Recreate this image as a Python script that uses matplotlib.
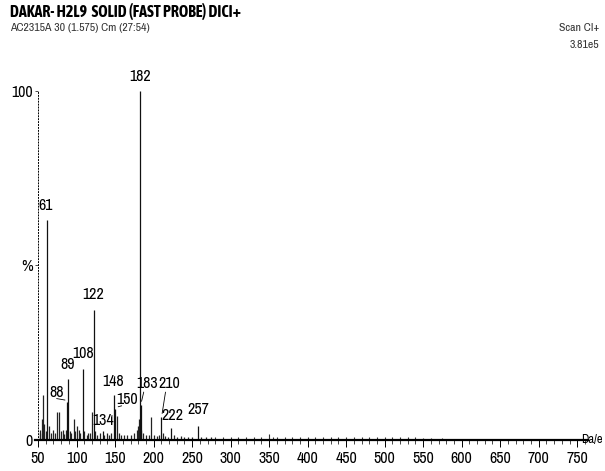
import matplotlib
matplotlib.use("Agg")
import matplotlib.pyplot as plt
from matplotlib import font_manager
from matplotlib.ticker import MultipleLocator, FixedLocator

# narrow faces: one for plain text, one with a bold weight for the title
faces = font_manager.fontManager.ttflist
narrow = [f.name for f in faces
          if 'Narrow' in f.name or 'Condensed' in f.name]
bold_narrow = sorted({f.name for f in faces
                      if f.name in narrow and f.weight in (700, 'bold')})
plt.rcParams['font.family'] = narrow[:1] + ['DejaVu Sans']
plt.rcParams['font.stretch'] = 'condensed'
title_family = (bold_narrow or narrow)[:1] + ['DejaVu Sans']

# labelled peaks (m/z, relative intensity %)
peak_mz = [61, 88, 89, 108, 122, 134, 148, 150, 182, 183, 210, 222, 257]
peak_int = [63, 11, 17.5, 20.3, 37.2, 2.5, 13, 9, 100, 10, 6.5, 3.4, 4]

# unlabelled stems
minor_mz = [52, 53, 55, 57, 58, 60, 64, 67, 70, 72, 75, 77, 80, 82, 84, 86, 91,
            93, 96, 98, 100, 103, 105, 110, 113, 115, 118, 120, 124, 127, 130,
            136, 139, 142, 145, 152, 155, 158, 162, 166, 170, 174, 178, 180,
            181, 184, 186, 190, 194, 197, 200, 204, 207, 212, 215, 219, 226,
            230, 235, 240, 245, 250, 262, 268, 275]
minor_int = [2, 3, 6, 13, 4.5, 2.5, 4, 2, 3, 2, 8, 8, 2.5, 3, 1.8, 3, 2.5,
             2, 6, 2.5, 4, 3, 2, 2.5, 1.5, 2, 2, 8, 2.5, 1.5, 2,
             1.5, 2, 1.5, 2, 7, 2, 1.5, 1.5, 1.5, 1.5, 2, 3, 4,
             6, 3, 2, 1.5, 1.5, 6.6, 1.5, 1.2, 1.5, 2, 1.2, 1, 1.5,
             1, 1.2, 1, 1, 0.9, 1, 0.8, 0.9]

# baseline grass
noise_mz = [280, 290, 300, 310, 320, 330, 340, 350, 355, 360, 370, 380, 390,
            400, 410, 420, 430, 440, 450, 460, 470, 480, 490, 500, 510, 520,
            530, 540, 550, 560, 575, 590, 605, 620, 640, 660, 680, 700, 720, 740]
noise_int = [0.9, 1, 0.8, 1, 0.9, 1, 0.9, 1.8, 0.9, 1, 0.8, 1, 0.9,
             1, 0.8, 1, 0.9, 1, 0.8, 0.9, 1, 0.8, 0.9, 0.8, 0.9, 0.8,
             0.9, 0.8, 0.7, 0.6, 0.5, 0.4, 0.4, 0.3, 0.3, 0.3, 0.3, 0.3, 0.3, 0.3]

labels = ['61', '88', '89', '108', '122', '134', '148', '150', '182', '183',
          '210', '222', '257']
# label anchor (m/z, %) for each labelled peak
label_x = [60, 74.5, 89, 108, 122, 134.5, 148, 166, 182, 192, 220, 224, 258]
label_y = [65, 11.5, 19.5, 22.5, 39.5, 3.5, 14.5, 9.5, 102, 14, 14, 5, 6.5]
leader = ['', '88', '', '', '', '', '', '150', '', '183', '210', '', '']

fig = plt.figure(figsize=(6.05, 4.71), dpi=100)
ax = fig.add_axes([35 / 605, 31 / 471, 553 / 605, 373 / 471])

ax.vlines(noise_mz, 0, noise_int, color='#333333', linewidth=0.8)
ax.vlines(minor_mz, 0, minor_int, color='#222222', linewidth=0.9)
ax.vlines(peak_mz, 0, peak_int, color='#111111', linewidth=0.9)

for lab, lx, ly, pm, pi, ld in zip(labels, label_x, label_y, peak_mz,
                                    peak_int, leader):
    ax.text(lx, ly, lab, ha='center', va='bottom', fontsize=11.5)
    if ld:
        ax.annotate('', xy=(pm + 0.5, pi + 0.3), xytext=(lx - 4, ly + 0.5),
                    arrowprops=dict(arrowstyle='-', color='black', lw=0.6))

ax.set_xlim(46, 764)
ax.set_ylim(0, 106.8)

for s in ['top', 'right']:
    ax.spines[s].set_visible(False)
ax.spines['left'].set_position(('data', 50))
ax.spines['left'].set_bounds(0, 100)
ax.spines['left'].set_linestyle((0, (1, 2)))
ax.spines['left'].set_linewidth(0.7)
ax.spines['bottom'].set_linewidth(1.6)

ax.xaxis.set_major_locator(FixedLocator(range(50, 751, 50)))
ax.xaxis.set_minor_locator(MultipleLocator(10))
ax.tick_params(axis='x', which='major', direction='out', length=5,
               width=0.7, labelsize=11.5, pad=3)
ax.tick_params(axis='x', which='minor', direction='out', length=3, width=0.5)

ax.set_yticks([0, 50, 100])
ax.set_yticklabels(['0', '%', '100'])
ax.tick_params(axis='y', direction='out', length=2, width=0.5,
               labelsize=11.5, pad=2)

fig.text(603 / 605, 31 / 471, 'Da/e', fontsize=9, va='center', ha='right')
fig.text(10 / 605, 1 - 12 / 471, 'DAKAR- H2L9  SOLID (FAST PROBE) DICI+',
         fontsize=11.5, fontweight='bold', va='center', ha='left',
         family=title_family)
fig.text(10 / 605, 1 - 28 / 471, 'AC2315A 30 (1.575) Cm (27:54)',
         fontsize=8.5, va='center', ha='left', color='#333333')
fig.text(599 / 605, 1 - 28 / 471, 'Scan CI+', fontsize=8.5, va='center',
         ha='right', color='#333333')
fig.text(599 / 605, 1 - 45 / 471, '3.81e5', fontsize=8.5, va='center',
         ha='right', color='#333333')

fig.savefig('out.png', dpi=100)
